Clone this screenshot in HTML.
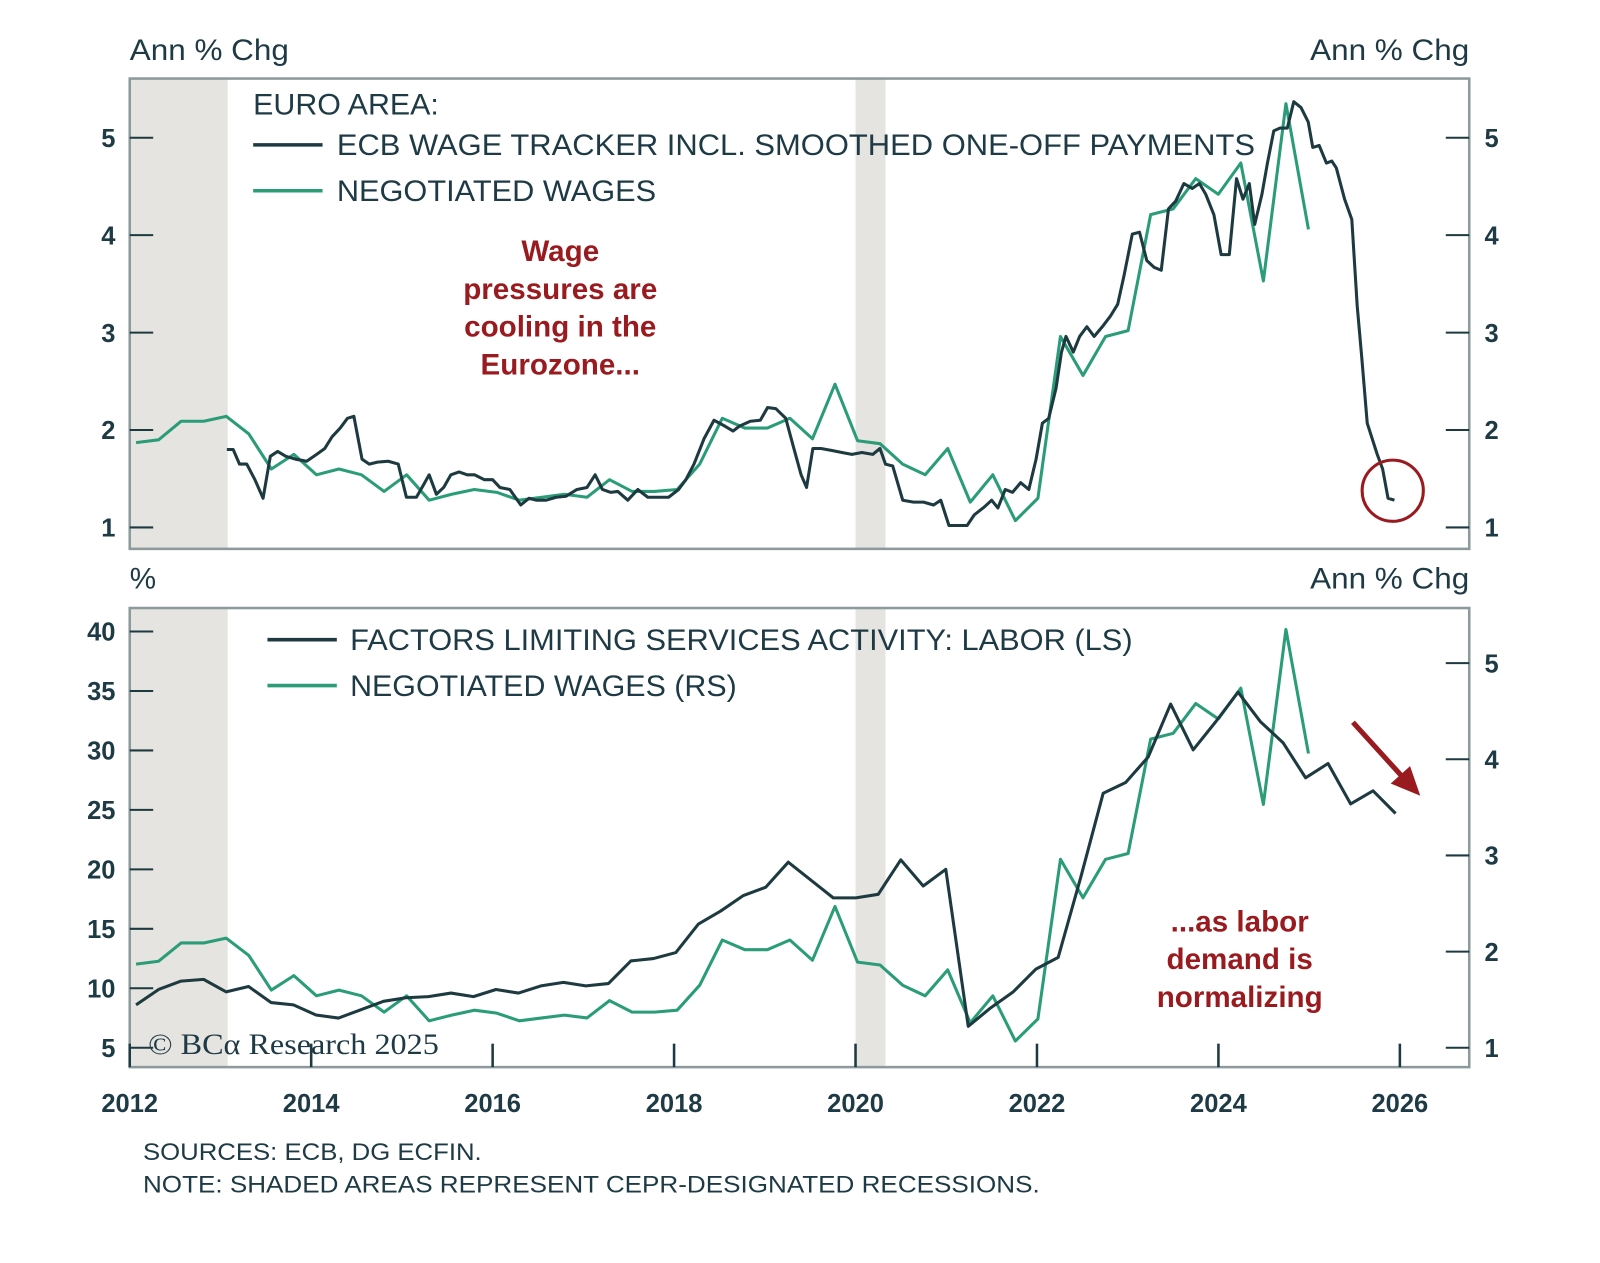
<!DOCTYPE html>
<html><head><meta charset="utf-8">
<style>
html,body{margin:0;padding:0;background:#fff;}
svg{display:block;font-family:"Liberation Sans",sans-serif;}
.t{fill:#1e3a45;font-size:29px;}
.tk{fill:#1e3a45;font-size:25px;font-weight:bold;}
.red{fill:#9a1b1f;font-size:29px;font-weight:bold;}
</style></head>
<body>
<svg id="c" width="1600" height="1263" viewBox="0 0 1568 1238">
  <g id="g"></g>
  <g>
  <text class="t" x="127" y="59" textLength="156" lengthAdjust="spacingAndGlyphs">Ann % Chg</text>
  <text class="t" x="1284" y="59" textLength="156" lengthAdjust="spacingAndGlyphs">Ann % Chg</text>
  <text class="t" x="127" y="577">%</text>
  <text class="t" x="1284" y="577" textLength="156" lengthAdjust="spacingAndGlyphs">Ann % Chg</text>
  <text class="t" x="248" y="112" textLength="182" lengthAdjust="spacingAndGlyphs">EURO AREA:</text>
  <line x1="248" x2="316" y1="142" y2="142" stroke="#1d3a40" stroke-width="3.5"/>
  <text class="t" x="330" y="152" textLength="900" lengthAdjust="spacingAndGlyphs">ECB WAGE TRACKER INCL. SMOOTHED ONE-OFF PAYMENTS</text>
  <line x1="248" x2="316" y1="187" y2="187" stroke="#2a9d78" stroke-width="3.5"/>
  <text class="t" x="330" y="197" textLength="313" lengthAdjust="spacingAndGlyphs">NEGOTIATED WAGES</text>
  <line x1="262" x2="330" y1="627" y2="627" stroke="#1d3a40" stroke-width="3.5"/>
  <text class="t" x="343" y="637" textLength="767" lengthAdjust="spacingAndGlyphs">FACTORS LIMITING SERVICES ACTIVITY: LABOR (LS)</text>
  <line x1="262" x2="330" y1="672" y2="672" stroke="#2a9d78" stroke-width="3.5"/>
  <text class="t" x="343" y="682" textLength="379" lengthAdjust="spacingAndGlyphs">NEGOTIATED WAGES (RS)</text>
  <g>
    <text class="red" x="549" y="256" text-anchor="middle">Wage</text>
    <text class="red" x="549" y="293" text-anchor="middle">pressures are</text>
    <text class="red" x="549" y="330" text-anchor="middle">cooling in the</text>
    <text class="red" x="549" y="367" text-anchor="middle">Eurozone...</text>
  </g>
  <g>
    <text class="red" x="1215" y="913" text-anchor="middle">...as labor</text>
    <text class="red" x="1215" y="950" text-anchor="middle">demand is</text>
    <text class="red" x="1215" y="987" text-anchor="middle">normalizing</text>
  </g>
  <circle cx="1365" cy="481" r="30" fill="none" stroke="#9a1b1f" stroke-width="3"/>
  <g>
    <line x1="1326" y1="708" x2="1375" y2="762" stroke="#9a1b1f" stroke-width="5"/>
    <polygon points="1392,780 1363,768 1382,751" fill="#9a1b1f"/>
  </g>
  <text x="145" y="1033" textLength="285" lengthAdjust="spacingAndGlyphs" font-family="Liberation Serif, serif" font-size="29" fill="#1e3a45">© BCα Research 2025</text>
  <text x="140" y="1137" textLength="332" lengthAdjust="spacingAndGlyphs" font-size="24" fill="#1e3a45">SOURCES: ECB, DG ECFIN.</text>
  <text x="140" y="1169" textLength="879" lengthAdjust="spacingAndGlyphs" font-size="24" fill="#1e3a45">NOTE: SHADED AREAS REPRESENT CEPR-DESIGNATED RECESSIONS.</text>
  </g>
</svg>
<script>
const ecbDates=[2013.07,2013.14,2013.21,2013.29,2013.38,2013.47,2013.55,2013.63,2013.72,2013.83,2013.95,2014.06,2014.15,2014.23,2014.32,2014.40,2014.47,2014.56,2014.64,2014.73,2014.85,2014.96,2015.05,2015.16,2015.24,2015.30,2015.38,2015.46,2015.54,2015.63,2015.72,2015.80,2015.91,2016.00,2016.08,2016.19,2016.31,2016.40,2016.48,2016.59,2016.70,2016.81,2016.93,2017.04,2017.13,2017.21,2017.30,2017.38,2017.49,2017.60,2017.71,2017.83,2017.94,2018.05,2018.13,2018.22,2018.33,2018.44,2018.56,2018.65,2018.72,2018.84,2018.95,2019.03,2019.12,2019.23,2019.32,2019.40,2019.46,2019.53,2019.62,2019.74,2019.85,2019.96,2020.07,2020.19,2020.27,2020.33,2020.41,2020.52,2020.64,2020.75,2020.86,2020.94,2021.03,2021.14,2021.23,2021.31,2021.42,2021.50,2021.57,2021.65,2021.73,2021.82,2021.91,2021.99,2022.06,2022.13,2022.21,2022.27,2022.32,2022.40,2022.47,2022.55,2022.63,2022.72,2022.81,2022.89,2022.96,2023.05,2023.13,2023.21,2023.29,2023.37,2023.45,2023.53,2023.62,2023.71,2023.79,2023.86,2023.95,2024.03,2024.12,2024.20,2024.27,2024.34,2024.40,2024.48,2024.54,2024.61,2024.68,2024.76,2024.83,2024.91,2024.99,2025.04,2025.11,2025.19,2025.25,2025.30,2025.39,2025.47,2025.53,2025.58,2025.64,2025.75,2025.81,2025.87,2025.94];
const ecbValues=[1.80,1.80,1.65,1.65,1.49,1.30,1.73,1.78,1.73,1.70,1.68,1.75,1.81,1.93,2.02,2.12,2.14,1.70,1.65,1.67,1.68,1.65,1.31,1.31,1.44,1.54,1.34,1.41,1.54,1.57,1.54,1.54,1.49,1.49,1.41,1.39,1.23,1.30,1.28,1.28,1.31,1.32,1.39,1.41,1.54,1.39,1.36,1.37,1.28,1.39,1.31,1.31,1.31,1.39,1.49,1.65,1.91,2.10,2.04,1.99,2.04,2.09,2.10,2.23,2.22,2.12,1.81,1.54,1.41,1.81,1.81,1.79,1.77,1.75,1.77,1.75,1.81,1.65,1.63,1.28,1.26,1.26,1.23,1.28,1.02,1.02,1.02,1.13,1.21,1.28,1.20,1.39,1.36,1.46,1.39,1.70,2.07,2.12,2.43,2.80,2.96,2.80,2.96,3.06,2.96,3.06,3.17,3.29,3.59,4.01,4.03,3.74,3.67,3.64,4.27,4.35,4.53,4.48,4.53,4.42,4.21,3.80,3.80,4.58,4.37,4.53,4.11,4.42,4.74,5.07,5.10,5.10,5.37,5.31,5.16,4.90,4.92,4.74,4.76,4.69,4.37,4.16,3.27,2.75,2.07,1.75,1.60,1.30,1.28];
const negStart=2012.07;
const negValues=[1.87,1.90,2.09,2.09,2.14,1.96,1.60,1.75,1.54,1.60,1.54,1.37,1.54,1.28,1.34,1.39,1.36,1.28,1.31,1.34,1.31,1.49,1.37,1.37,1.39,1.65,2.12,2.02,2.02,2.12,1.91,2.47,1.89,1.86,1.65,1.54,1.81,1.26,1.54,1.07,1.30,2.96,2.56,2.96,3.02,4.21,4.27,4.58,4.42,4.74,3.53,5.35,4.06];
const laborValues=[8.6,9.9,10.6,10.75,9.7,10.15,8.8,8.6,7.75,7.5,8.2,8.9,9.2,9.3,9.6,9.3,9.9,9.6,10.2,10.5,10.2,10.4,12.3,12.5,13.0,15.4,16.5,17.8,18.5,20.6,19.1,17.6,17.6,17.9,20.8,18.6,20.0,6.8,8.35,9.7,11.6,12.6,19.3,26.4,27.3,29.45,33.9,30.05,32.4,34.9,32.4,30.65,27.7,28.9,25.5,26.6,24.7];
const xTicks=[2012,2014,2016,2018,2020,2022,2024,2026];
const topTicks=[1,2,3,4,5];
const botLeftTicks=[5,10,15,20,25,30,35,40];
const botRightTicks=[1,2,3,4,5];
const recessions=[[2012.0,2013.08],[2020.0,2020.33]];

const NS="http://www.w3.org/2000/svg";
const g=document.getElementById('g');
function el(t,a,txt){const e=document.createElementNS(NS,t);for(const k in a)e.setAttribute(k,a[k]);if(txt!==undefined)e.textContent=txt;g.appendChild(e);return e;}
const L=127,R=1440;
const x=t=>L+(t-2012)*(1372-127)/14;
const yTop=v=>517-(v-1)*(517-135)/4;
const yBL=v=>1027-(v-5)*(1027-619)/35;
const yBR=v=>1027-(v-1)*(1027-650)/4;
const DARK="#1d3a40",GREEN="#2a9d78",AX="#8c9a9c";

[[77,538],[596,1046]].forEach(p=>recessions.forEach(r=>{
  const e=el('rect',{x:x(r[0]),y:p[0],width:x(r[1])-x(r[0]),height:p[1]-p[0],fill:"#e6e4e0"});
  
  
}));

function path(dates,vals,yf,color,name){
  let d='';vals.forEach((v,i)=>{d+=(i?'L':'M')+x(dates[i]).toFixed(1)+' '+yf(v).toFixed(1);});
  const e=el('path',{d:d,fill:'none',stroke:color,'stroke-width':3,'stroke-linejoin':'round'});
  
  
}
const negDates=negValues.map((v,i)=>negStart+i*0.2485);
const laborDates=laborValues.map((v,i)=>negStart+i*0.2479);

path(negDates,negValues,yTop,GREEN,'negotiated-wages-line-top');
path(ecbDates,ecbValues,yTop,DARK,'ecb-wage-tracker-line');
path(negDates,negValues,yBR,GREEN,'negotiated-wages-line-bottom');
path(laborDates,laborValues,yBL,DARK,'labor-limiting-line');

[[77,538,'top-plot-frame'],[596,1046,'bottom-plot-frame']].forEach(p=>{
  const e=el('rect',{x:L,y:p[0],width:R-L,height:p[1]-p[0],fill:'none',stroke:AX,'stroke-width':2.5});
  
  
});
topTicks.forEach(v=>{
  const y=yTop(v);
  el('line',{x1:L,x2:L+23,y1:y,y2:y,stroke:DARK,'stroke-width':2});
  el('line',{x1:R-23,x2:R,y1:y,y2:y,stroke:DARK,'stroke-width':2});
  const a=el('text',{x:113,y:y+9,class:'tk','text-anchor':'end'},v);
  
  
  const b=el('text',{x:1455,y:y+9,class:'tk'},v);
  
  
});
botLeftTicks.forEach(v=>{
  const y=yBL(v);
  el('line',{x1:L,x2:L+23,y1:y,y2:y,stroke:DARK,'stroke-width':2});
  const a=el('text',{x:113,y:y+9,class:'tk','text-anchor':'end'},v);
  
  
});
botRightTicks.forEach(v=>{
  const y=yBR(v);
  el('line',{x1:R-23,x2:R,y1:y,y2:y,stroke:DARK,'stroke-width':2});
  const b=el('text',{x:1455,y:y+9,class:'tk'},v);
  
  
});
xTicks.forEach(t=>{
  const xx=x(t);
  el('line',{x1:xx,x2:xx,y1:1046,y2:1023,stroke:DARK,'stroke-width':2.5});
  const a=el('text',{x:xx,y:1090,class:'tk','text-anchor':'middle'},t);
  
  
});
</script>
</body></html>
